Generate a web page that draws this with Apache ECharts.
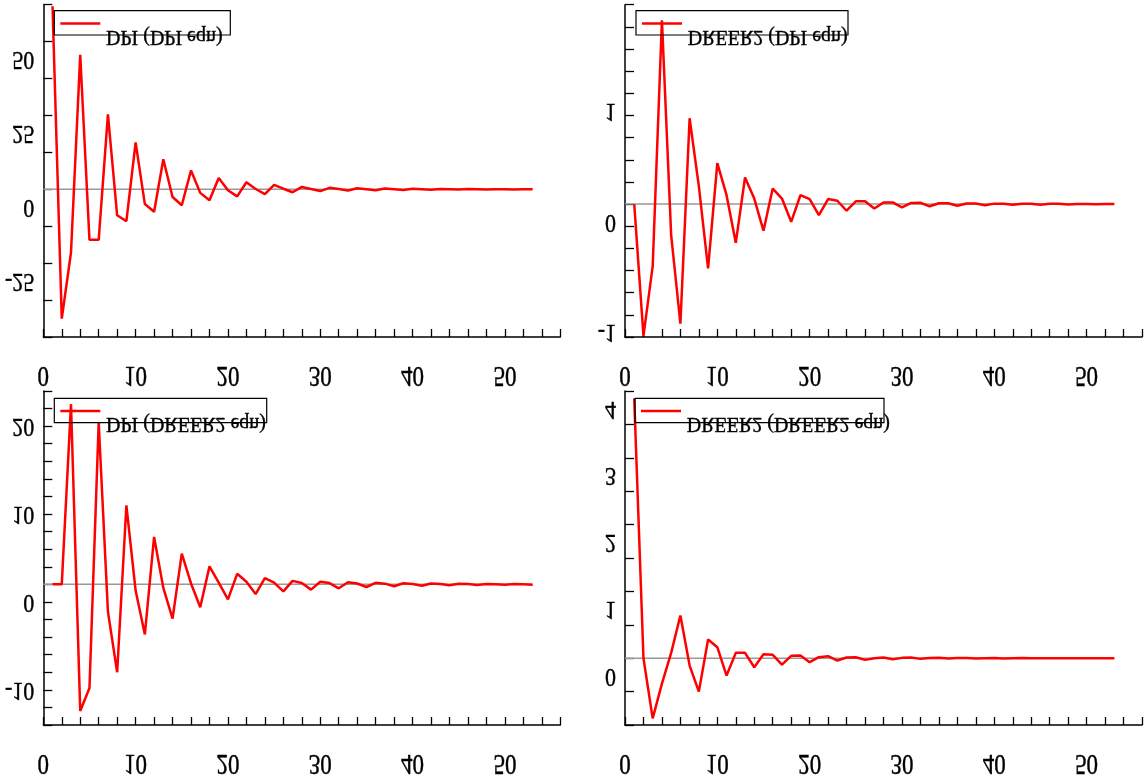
<!DOCTYPE html>
<html>
<head>
<meta charset="utf-8">
<script src="https://cdn.jsdelivr.net/npm/echarts@6/dist/echarts.min.js"></script>
<style>
html,body{margin:0;padding:0;background:#fff;}
#chart{width:1144px;height:778px;}
</style>
</head>
<body>
<div id="chart"></div>
<script>
// ---- data ----
const lags = Array.from({length: 53}, (_, i) => i + 1);
const xTickLabels = [0, 10, 20, 30, 40, 50];

const seriesNames = ['DPI (DPI eqn)', 'DREER2 (DPI eqn)', 'DPI (DREER2 eqn)', 'DREER2 (DREER2 eqn)'];

const dpiDpi = [62, -43.8, -21.4, 45.5, -17.1, -17.1, 25.4, -8.8, -10.8, 15.9, -5.0, -7.6, 10.2, -2.6, -5.4, 6.4, -1.2, -3.7, 3.8, -0.3, -2.4, 2.4, 0.1, -1.6, 1.5, 0.2, -1.0, 0.8, 0.1, -0.6, 0.5, 0.1, -0.4, 0.35, 0.05, -0.3, 0.25, 0.05, -0.2, 0.18, 0.03, -0.14, 0.12, 0.02, -0.1, 0.08, 0.01, -0.07, 0.06, 0.01, -0.05, 0.04, 0.0];
const dreerDpi = [0, -1.19, -0.56, 1.66, -0.28, -1.08, 0.775, 0.16, -0.58, 0.37, 0.08, -0.35, 0.24, 0.05, -0.24, 0.14, 0.05, -0.16, 0.08, 0.045, -0.10, 0.045, 0.03, -0.06, 0.025, 0.025, -0.04, 0.015, 0.015, -0.03, 0.01, 0.012, -0.02, 0.008, 0.008, -0.015, 0.005, 0.006, -0.01, 0.004, 0.004, -0.007, 0.003, 0.003, -0.005, 0.002, 0.002, -0.003, 0.001, 0.001, -0.002, 0.001, 0.0];
const dpiDreer = [0, 0, 20.5, -14.4, -11.8, 18.4, -3.1, -10.0, 9.0, -0.7, -5.7, 5.4, -0.4, -3.9, 3.5, 0.1, -2.6, 2.05, 0.2, -1.7, 1.2, 0.3, -1.1, 0.7, 0.2, -0.8, 0.4, 0.15, -0.6, 0.3, 0.15, -0.45, 0.25, 0.1, -0.3, 0.18, 0.08, -0.22, 0.13, 0.05, -0.16, 0.1, 0.04, -0.11, 0.07, 0.03, -0.08, 0.05, 0.02, -0.05, 0.03, 0.01, -0.03];
const dreerDreer = [3.89, 0.0, -0.9, -0.38, 0.08, 0.64, -0.11, -0.5, 0.28, 0.165, -0.26, 0.08, 0.08, -0.135, 0.06, 0.05, -0.095, 0.035, 0.04, -0.06, 0.015, 0.03, -0.035, 0.01, 0.015, -0.025, 0.0, 0.01, -0.015, 0.005, 0.01, -0.01, 0.003, 0.006, -0.006, 0.002, 0.004, -0.004, 0.001, 0.003, -0.003, 0.001, 0.002, -0.002, 0.001, 0.001, -0.001, 0, 0.001, -0.001, 0, 0, 0];

const yTickLabelsTL = [-25, 0, 25, 50];
const yTickLabelsTR = [-1, 0, 1];
const yTickLabelsBL = [-10, 0, 10, 20];
const yTickLabelsBR = [0, 1, 2, 3, 4];

// ---- layout / styles ----
const panels = [
  {name: seriesNames[0], data: dpiDpi,     yMin: -50, yMax: 62.5, yInt: 12.5, yLabels: yTickLabelsTL,
   grid: {left: 43.3, top: 4.7, width: 517, height: 332.3}, box: {dx: 11, dy: 6, w: 176, h: 24.3, textDy: 26.3}},
  {name: seriesNames[1], data: dreerDpi,   yMin: -1.2, yMax: 1.8, yInt: 0.2, yLabels: yTickLabelsTR,
   grid: {left: 625, top: 4.7, width: 517, height: 332.3}, box: {dx: 11, dy: 6, w: 212, h: 24.3, textDy: 26}},
  {name: seriesNames[2], data: dpiDreer,   yMin: -16, yMax: 22, yInt: 2, yLabels: yTickLabelsBL,
   grid: {left: 43.3, top: 391, width: 517, height: 334}, box: {dx: 11, dy: 7.3, w: 212.4, h: 24.4, textDy: 25}},
  {name: seriesNames[3], data: dreerDreer, yMin: -1, yMax: 4, yInt: 0.5, yLabels: yTickLabelsBR,
   grid: {left: 625, top: 391, width: 517, height: 334}, box: {dx: 10, dy: 7.3, w: 249, h: 24.4, textDy: 25}}
];

const FONT = '"Liberation Serif", "DejaVu Serif", serif';
const axisCommon = {
  axisLine: {show: true, onZero: false, lineStyle: {color: '#000', width: 1.5}},
  axisLabel: {show: false},
  splitLine: {show: false}
};

const chart = echarts.init(document.getElementById('chart'), null, {renderer: 'canvas'});

const option = {
  backgroundColor: '#fff',
  animation: false,
  grid: panels.map(p => Object.assign({containLabel: false}, p.grid)),
  xAxis: panels.map((p, i) => Object.assign({}, axisCommon, {
    type: 'value', gridIndex: i, min: 0, max: 56, interval: 2,
    axisTick: {show: true, inside: true, length: 8, lineStyle: {color: '#000', width: 1.3}}
  })),
  yAxis: panels.map((p, i) => Object.assign({}, axisCommon, {
    type: 'value', gridIndex: i, min: p.yMin, max: p.yMax, interval: p.yInt,
    axisTick: {show: true, inside: true, length: 9, lineStyle: {color: '#000', width: 1.3}}
  })),
  series: [].concat(...panels.map((p, i) => [
    {
      type: 'line', xAxisIndex: i, yAxisIndex: i, silent: true, symbol: 'none', z: 2,
      data: [[0, 0], [lags[lags.length - 1], 0]],
      lineStyle: {color: '#999', width: 1.5}
    },
    {
      type: 'line', name: p.name, xAxisIndex: i, yAxisIndex: i, symbol: 'none', z: 3,
      data: lags.map((l, k) => [l, p.data[k]]),
      lineStyle: {color: '#ff0000', width: 2.5}
    }
  ]))
};
chart.setOption(option);

// ---- flipped text labels & legends (positions from the library's scales) ----
function flippedText(x, y, text, size, align, sy) {
  return {
    type: 'text', x: x, y: y, scaleY: sy, z: 10, silent: true,
    style: {
      text: text, font: size + 'px ' + FONT, fill: '#000',
      stroke: '#000', lineWidth: 0.35,
      align: align, verticalAlign: 'middle',
      textAlign: align, textVerticalAlign: 'middle'
    }
  };
}

const graphics = [];
panels.forEach((p, i) => {
  p.yLabels.forEach(v => {
    const pt = chart.convertToPixel({gridIndex: i}, [0, v]);
    graphics.push(flippedText(pt[0] - 9, pt[1] + 17, String(v), 22, 'right', -1.1));
  });
  xTickLabels.forEach(v => {
    const pt = chart.convertToPixel({gridIndex: i}, [v, p.yMin]);
    graphics.push(flippedText(pt[0], pt[1] + 38, String(v), 23, 'center', -1.3));
  });
  const bx = p.grid.left + p.box.dx, by = p.grid.top + p.box.dy;
  graphics.push({
    type: 'rect', z: 9, silent: true,
    shape: {x: bx, y: by, width: p.box.w, height: p.box.h},
    style: {fill: 'transparent', stroke: '#000', lineWidth: 1.2}
  });
  graphics.push({
    type: 'line', z: 9, silent: true,
    shape: {x1: bx + 6, y1: by + 12.7, x2: bx + 46, y2: by + 12.7},
    style: {stroke: '#ff0000', lineWidth: 2.5}
  });
  graphics.push(flippedText(bx + 51.7, by + p.box.textDy, p.name, 20, 'left', -1.05));
});
chart.setOption({graphic: {elements: graphics}});
</script>
</body>
</html>
